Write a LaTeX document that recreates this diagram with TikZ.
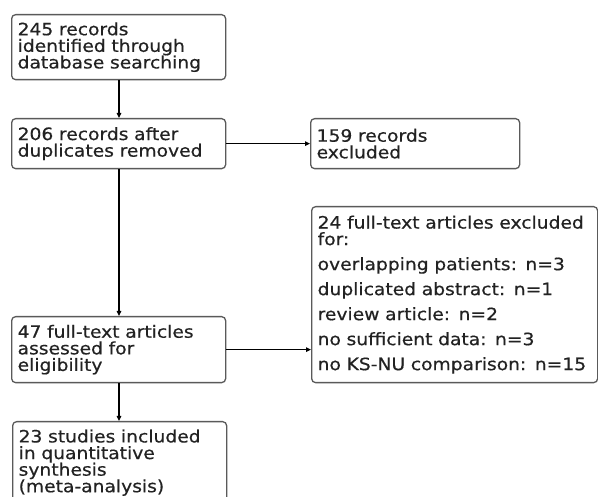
\documentclass[tikz,border=0pt]{standalone}
\usepackage{fontspec}
\setmainfont[FakeStretch=1.1,FakeBold=0.5]{DejaVu Sans}
\usetikzlibrary{arrows.meta}
\definecolor{boxline}{HTML}{5A5A5A}
\definecolor{txt}{HTML}{222222}
\begin{document}
\begin{tikzpicture}[x=1pt,y=-1pt,
  box/.style={draw=boxline, line width=1.3pt, rounded corners=4pt, fill=white,
    anchor=north west, align=left, inner xsep=6pt, inner ysep=3pt,
    text=txt, font=\fontsize{17}{16.6}\selectfont},
  conn/.style={line width=1.2pt, -{Triangle[length=5pt,width=4.5pt]}}]
\useasboundingbox (0,0) rectangle (598,497);
\clip (0,0) rectangle (598,497);
\fill[white] (0,0) rectangle (598,497);
\node[box, text width=202pt, minimum height=65pt] (b1) at (11,14)
  {245 records\\identified through\\database searching};
\node[box, text width=202pt, minimum height=50pt] (b2) at (11,118)
  {206 records after\\duplicates removed};
\node[box, text width=197pt, minimum height=50pt] (b3) at (310,118)
  {159 records\\excluded};
\node[box, text width=274pt, minimum height=176pt] (b4) at (311,206)
  {24 full-text articles excluded\\for:\\[8.4pt]overlapping patients: n=3\\[8.4pt]duplicated abstract: n=1\\[8.4pt]review article: n=2\\[8.4pt]no sufficient data: n=3\\[8.4pt]no KS-NU comparison: n=15};
\node[box, text width=202pt, minimum height=66pt] (b5) at (11,316)
  {47 full-text articles\\assessed for\\eligibility};
\node[box, text width=202pt, minimum height=82pt] (b6) at (12,421)
  {23 studies included\\in quantitative\\synthesis\\(meta-analysis)};
\draw[conn] (b1.south -| 119,0) -- (b2.north -| 119,0);
\draw[conn] (b2.south -| 119,0) -- (b5.north -| 119,0);
\draw[conn] (b5.south -| 119,0) -- (b6.north -| 119,0);
\draw[conn] (b2.east) -- (b3.west |- b2.east);
\draw[conn] (b5.east) -- (b4.west |- b5.east);
\end{tikzpicture}
\end{document}
